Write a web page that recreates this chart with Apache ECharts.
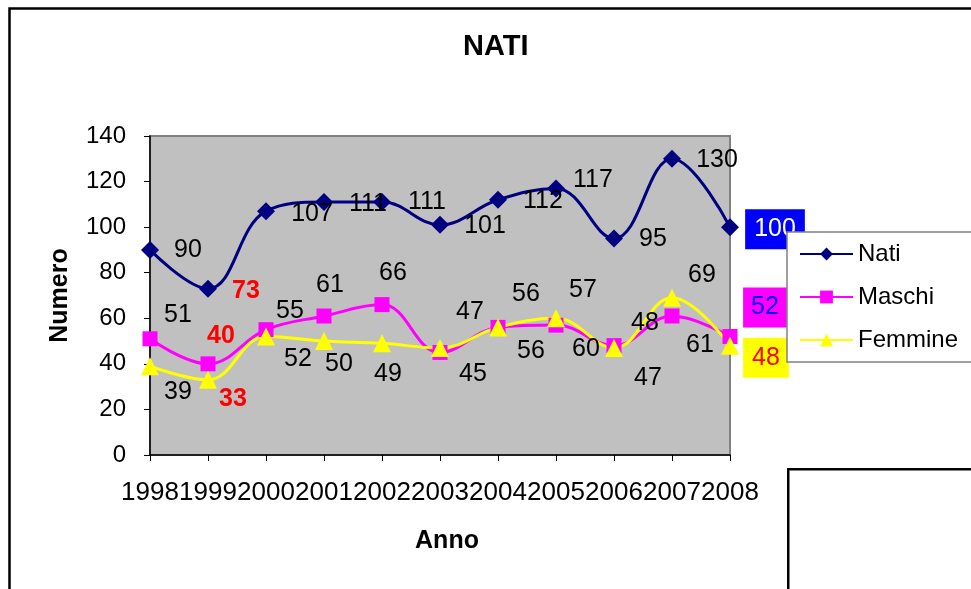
<!DOCTYPE html>
<html>
<head>
<meta charset="utf-8">
<script src="https://cdn.jsdelivr.net/npm/echarts@6/dist/echarts.min.js"></script>
<style>
html,body{margin:0;padding:0;background:#fff;}
#chart{width:971px;height:589px;}
</style>
</head>
<body>
<div id="chart"></div>
<script>
// ---- data ----
const years = ['1998','1999','2000','2001','2002','2003','2004','2005','2006','2007','2008'];
const nati    = [90, 73, 107, 111, 111, 101, 112, 117, 95, 130, 100];
const maschi  = [51, 40, 55, 61, 66, 45, 56, 57, 48, 61, 52];
const femmine = [39, 33, 52, 50, 49, 47, 56, 60, 47, 69, 48];
const yTicks = [0, 20, 40, 60, 80, 100, 120, 140];

// ---- label placement (style only) ----
const natiOff    = [[38,0],[38,2],[46,3],[44,2],[45,0],[45,1],[45,1],[37,-8],[39,1],[45,1],[45,2]];
const maschiOff  = [[28,-24],[13,-28],[24,-19],[6,-31],[11,-32],[33,22],[28,-33],[27,-35],[31,-23],[28,29],[35,-29]];
const femmineOff = [[28,26],[25,19],[32,23],[15,23],[6,31],[30,-36],[33,24],[30,31],[34,30],[30,-23],[36,12]];

const FONT = '"Liberation Sans", Arial, sans-serif';
const redIdx = 1;
const lastIdx = years.length - 1;
const boxStyles = [
  {backgroundColor:'#0000FF', color:'#FFFFFF', padding:[8,9,7,9]},
  {backgroundColor:'#FF00FF', color:'#0000FF', padding:[8,8,7,8]},
  {backgroundColor:'#FFFF00', color:'#FF0000', padding:[8,9,7,9]}
];

function buildData(vals, offs, sIdx){
  return vals.map((v,i)=>{
    const lab = {show:true, position:'inside', offset:offs[i], fontSize:25, fontFamily:FONT, color:'#000'};
    if(i===redIdx){ lab.color='#FF0000'; lab.fontWeight='bold'; }
    if(i===lastIdx){ Object.assign(lab, boxStyles[sIdx]); }
    return {value:v, label:lab};
  });
}

const chart = echarts.init(document.getElementById('chart'), null, {renderer:'canvas'});
chart.setOption({
  animation:false,
  backgroundColor:'#fff',
  title:{text:'NATI', left:463, top:32, padding:0,
    textStyle:{fontFamily:FONT, fontSize:29, fontWeight:'bold', color:'#000'}},
  grid:{left:150, top:136, width:580, height:319, show:true, backgroundColor:'#C0C0C0', borderColor:'#808080', borderWidth:2},
  xAxis:{type:'category', data:years, boundaryGap:false,
    name:'Anno', nameLocation:'middle', nameGap:74,
    nameTextStyle:{fontFamily:FONT, fontSize:25, fontWeight:'bold', color:'#000', padding:[0,0,0,14]},
    axisLine:{lineStyle:{color:'#000', width:1.5}},
    axisTick:{show:true, length:6, lineStyle:{color:'#000'}},
    axisLabel:{fontFamily:FONT, fontSize:26, color:'#000', margin:25, interval:0},
    splitLine:{show:false}},
  yAxis:{type:'value', min:yTicks[0], max:yTicks[yTicks.length-1], interval:yTicks[1]-yTicks[0],
    name:'Numero', nameLocation:'middle', nameGap:77, nameRotate:90,
    nameTextStyle:{fontFamily:FONT, fontSize:25, fontWeight:'bold', color:'#000'},
    axisLine:{show:true, lineStyle:{color:'#000', width:1.5}},
    axisTick:{show:true, length:6, lineStyle:{color:'#000'}},
    axisLabel:{fontFamily:FONT, fontSize:24, color:'#000', margin:24},
    splitLine:{show:false}},
  legend:{data:['Nati','Maschi','Femmine'], orient:'vertical', left:787, top:232, z:20,
    backgroundColor:'#fff', borderColor:'#808080', borderWidth:1.5, borderRadius:0,
    padding:[10,16,10,12], itemWidth:53, itemHeight:16, itemGap:19,
    textStyle:{fontFamily:FONT, fontSize:24, color:'#000'}},
  graphic:[
    {type:'rect', left:7, top:6, z:-1, silent:true, shape:{width:1000, height:700},
      style:{fill:null, stroke:'#000', lineWidth:2.5}},
    {type:'rect', left:787, top:468, z:5, silent:true, shape:{width:300, height:200},
      style:{fill:'#fff', stroke:'#000', lineWidth:2.5}}
  ],
  series:[
    {name:'Nati', type:'line', smooth:0.4, data:buildData(nati, natiOff, 0),
      symbol:'diamond', symbolSize:18, z:3,
      lineStyle:{color:'#000080', width:3}, itemStyle:{color:'#000080'}},
    {name:'Maschi', type:'line', smooth:0.4, data:buildData(maschi, maschiOff, 1),
      symbol:'rect', symbolSize:15, z:3,
      lineStyle:{color:'#FF00FF', width:3}, itemStyle:{color:'#FF00FF'}},
    {name:'Femmine', type:'line', smooth:0.4, data:buildData(femmine, femmineOff, 2),
      symbol:'triangle', symbolSize:18, z:3,
      lineStyle:{color:'#FFFF00', width:3}, itemStyle:{color:'#FFFF00'}}
  ]
});
</script>
</body>
</html>
